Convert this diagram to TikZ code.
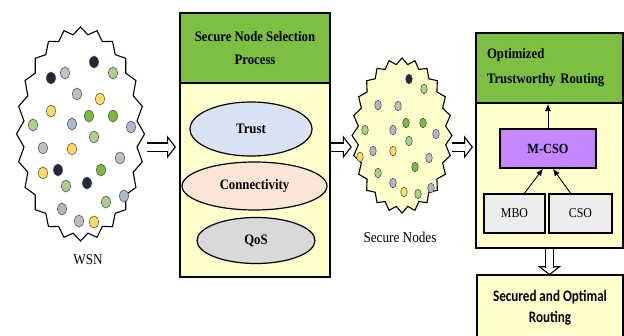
\documentclass[tikz,border=0pt]{standalone}
\usepackage{fontspec}
\newfontfamily\serifc[FakeStretch=0.88]{Liberation Serif}
\newfontfamily\calib[FakeStretch=0.82]{Carlito}
\usetikzlibrary{arrows.meta,shapes.geometric}
\definecolor{headgreen}{RGB}{125,191,66}
\definecolor{paleyellow}{RGB}{255,255,204}
\definecolor{trustblue}{RGB}{218,227,243}
\definecolor{connpeach}{RGB}{251,229,214}
\definecolor{qosgrey}{RGB}{217,217,217}
\definecolor{mcsopurple}{RGB}{198,134,255}
\definecolor{algogrey}{RGB}{237,237,237}
% sensor dot colours
\definecolor{dnavy}{RGB}{34,42,58}
\definecolor{dgrey}{RGB}{191,191,191}
\definecolor{dlgreen}{RGB}{169,209,142}
\definecolor{dgreen}{RGB}{120,188,60}
\definecolor{dyellow}{RGB}{255,217,102}
\definecolor{dblue}{RGB}{173,185,202}

\begin{document}
\begin{tikzpicture}[x=1pt, y=-1pt,
    panel/.style={draw, line width=2pt, fill=paleyellow},
    head/.style={draw, line width=2pt, fill=headgreen, font=\serifc\bfseries\fontsize{14.5}{23}\selectfont},
    crit/.style={ellipse, draw, line width=1.2pt, font=\serifc\bfseries\fontsize{14.5}{17}\selectfont},
    algo/.style={draw, line width=1.6pt, minimum height=39, font=\serifc\fontsize{13.5}{16}\selectfont},
    % hollow block arrow: open head first, then the double shaft over its base
    hollow/.style={line width=1.1pt,
        -{Triangle[open, fill=white, length=9pt, width=23pt, line width=1.1pt]},
        postaction={draw, -, double, double distance=7pt, line width=1.1pt, shorten >=7.6pt}},
    link/.style={-{Latex[length=7pt, width=6pt]}, line width=0.9pt},
    blob/.style={line width=1.1pt, line join=miter},
    sensor/.style={draw=black!75, line width=0.5pt}]
    \useasboundingbox (0,0) rectangle (624,335);
    \pgfmathsetmacro{\teeth}{7.5}  % units of degrees
    \coordinate (flow) at (0,147);

    % WSN cloud
    \node[ellipse, minimum width=128, minimum height=214] (wsn) at (80.5,134) {};
    \draw[blob, fill=white] plot[domain=0:360, samples=49, variable=\t]
       ({80.5+(64-7*mod(round(\t/\teeth),2))*cos(\t)},
        {134+(107-7*mod(round(\t/\teeth),2))*sin(\t)}) -- cycle;
    \foreach \x/\y/\c in {94/62/dnavy, 51/78/dnavy, 65/73/dgrey, 113/73/dlgreen,
        77/94/dgrey, 100/99/dyellow, 51/111/dyellow, 89/116/dgreen, 113/116/dgreen,
        33/125/dlgreen, 72/124/dblue, 131/127/dblue, 94/137/dlgreen, 43/148/dgrey,
        72/149/dyellow, 120/158/dgrey, 43/173/dyellow, 58/170/dnavy, 101/170/dgreen,
        66/186/dlgreen, 87/183/dnavy, 124/196/dblue, 106/202/dlgreen, 62/209/dblue,
        79/221/dgrey, 94/222/dyellow}
      \filldraw[sensor, fill=\c] (\x,\y) ellipse (4.5 and 6);
    \node[font=\serifc\fontsize{15}{17}\selectfont] (wsnlabel) at (88,260) {WSN};

    % selection panel
    \node[panel, minimum width=150, minimum height=264] (sel) at (255,145) {};
    \node[head, minimum width=150, minimum height=70, anchor=north, align=center] (selhead)
       at (sel.north) {Secure Node Selection\\Process};
    \node[crit, fill=trustblue, minimum width=122, minimum height=54] (trust) at (251,129) {Trust};
    \node[crit, fill=connpeach, minimum width=145, minimum height=48] (conn) at (254.5,186) {Connectivity};
    \node[crit, fill=qosgrey, minimum width=118, minimum height=46] (qos) at (256,240.5) {QoS};

    % secure nodes cloud
    \node[ellipse, minimum width=100, minimum height=155] (snodes) at (402,135.5) {};
    \draw[blob, fill=paleyellow] plot[domain=0:360, samples=49, variable=\t]
       ({402+(50-6*mod(round(\t/\teeth),2))*cos(\t)},
        {135.5+(77.5-6*mod(round(\t/\teeth),2))*sin(\t)}) -- cycle;
    \foreach \x/\y/\c in {409/79/dnavy, 424/89/dlgreen, 378/105/dblue, 398/106/dgrey,
        365/130/dlgreen, 393/130/dblue, 406/123/dgreen, 423/123/dgreen, 436/134/dblue,
        409/141/dlgreen, 360/157/dyellow, 373/151/dblue, 393/151/dyellow, 429/158/dgrey,
        378/173/dlgreen, 415/167/dgreen, 393/183/dblue, 404/192/dyellow, 418/194/dlgreen,
        431/188/dblue}
      \filldraw[sensor, fill=\c] (\x,\y) ellipse (3.3 and 4.8);
    \node[font=\serifc\fontsize{15}{17}\selectfont] (snlabel) at (400,237) {Secure Nodes};

    % routing panel
    \node[panel, minimum width=147, minimum height=215] (route) at (549.5,140.5) {};
    \node[head, minimum width=147, minimum height=70, anchor=north, text width=125,
       align=left, font=\serifc\bfseries\fontsize{14.5}{25}\selectfont] (routehead)
       at (route.north) {Optimized\\Trustworthy Routing};
    \node[algo, fill=mcsopurple, minimum width=96, font=\serifc\bfseries\fontsize{14}{16}\selectfont]
       (mcso) at (548,148.5) {M-CSO};
    \node[algo, fill=algogrey, minimum width=61] (mbo) at (514.5,213.5) {MBO};
    \node[algo, fill=algogrey, minimum width=63] (cso) at (580.5,213.5) {CSO};

    % result
    \node[panel, line width=1.6pt, minimum width=146, minimum height=66, align=center,
       font=\calib\bfseries\fontsize{16}{21}\selectfont] (result) at (550,308)
       {Secured and Optimal\\Routing};

    % connectors
    \draw[hollow, shorten <=2pt] (wsn.east |- flow) -- ([xshift=-3]sel.west |- flow);
    \draw[hollow] (sel.east |- flow) -- (snodes.west |- flow);
    \draw[hollow] (snodes.east |- flow) -- ([xshift=-2]route.west |- flow);
    \draw[hollow] (route.south) -- ([yshift=-1]route.south |- result.north);
    \draw[link] (mcso.north) -- (mcso.north |- routehead.south);
    \draw[link] ([xshift=10]mbo.north) -- ([xshift=-5]mcso.south);
    \draw[link] ([xshift=-10]cso.north) -- ([xshift=5]mcso.south);
\end{tikzpicture}
\end{document}
